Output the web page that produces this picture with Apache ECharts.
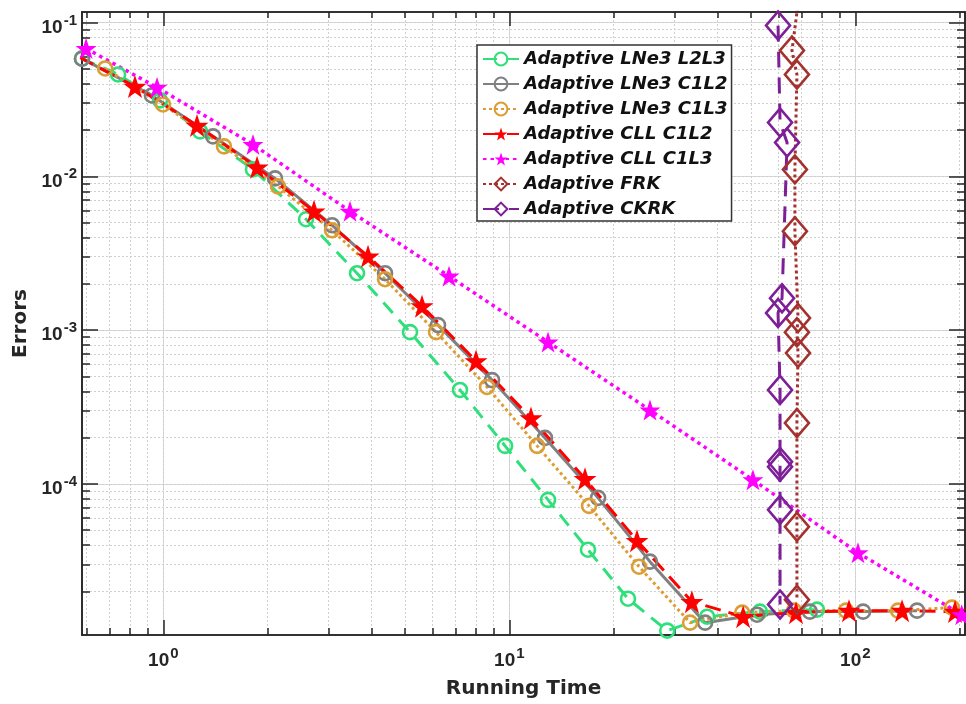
<!DOCTYPE html>
<html><head><meta charset="utf-8">
<script src="https://cdn.jsdelivr.net/npm/echarts@6/dist/echarts.min.js"></script>
<style>html,body{margin:0;padding:0;background:#fff}#c{width:966px;height:704px}</style>
</head><body><div id="c"></div><script>
// ---- data ----
const seriesNames = ['Adaptive LNe3 L2L3','Adaptive LNe3 C1L2','Adaptive LNe3 C1L3','Adaptive CLL C1L2','Adaptive CLL C1L3','Adaptive FRK','Adaptive CKRK'];
const lne3L2L3 = [[0.582,0.0583],[0.740,0.0460],[0.978,0.0312],[1.277,0.0196],[1.816,0.0111],[2.585,0.00526],[3.629,0.002345],[5.164,0.000970],[7.202,0.000408],[9.72,0.0001766],[12.94,7.87e-5],[16.88,3.73e-5],[22.03,1.79e-5],[28.6,1.11e-5],[37.3,1.368e-5],[53.0,1.476e-5],[77.5,1.52e-5]];
const lne3C1L2 = [[0.582,0.0583],[0.927,0.0336],[1.392,0.0182],[2.103,0.00970],[3.073,0.00481],[4.373,0.002345],[6.222,0.001078],[8.913,0.000473],[12.68,0.000199],[18.05,8.11e-5],[25.5,3.12e-5],[36.8,1.251e-5],[52.0,1.41e-5],[73.9,1.476e-5],[105.3,1.476e-5],[150.8,1.498e-5]];
const lne3C1L3 = [[0.679,0.0503],[0.998,0.02934],[1.497,0.01567],[2.145,0.00861],[3.073,0.00446],[4.373,0.002143],[6.141,0.000970],[8.620,0.000427],[12.03,0.0001766],[17.00,7.19e-5],[23.71,2.89e-5],[33.3,1.251e-5],[47.1,1.453e-5],[66.5,1.498e-5],[94.0,1.498e-5],[132.9,1.498e-5],[190.3,1.567e-5]];
const cllC1L2 = [[0.57,0.0598],[0.828,0.0384],[1.251,0.02143],[1.866,0.01144],[2.726,0.00593],[3.905,0.003023],[5.593,0.001432],[8.013,0.000629],[11.55,0.000268],[16.55,0.0001078],[23.39,4.27e-5],[33.7,1.714e-5],[47.4,1.368e-5],[67.4,1.453e-5],[95.9,1.498e-5],[136.5,1.498e-5],[194.2,1.476e-5]];
const cllC1L3 = [[0.598,0.0678],[0.959,0.0379],[1.816,0.01613],[3.464,0.00593],[6.695,0.002244],[12.94,0.000836],[25.5,0.000302],[50.6,0.0001062],[101.8,3.56e-5],[203,1.41e-5]];
const frk = [[68.8,0.15],[65.6,0.0658],[67.8,0.0460],[66.9,0.0111],[66.9,0.00439],[68.3,0.001197],[67.8,0.000970],[68.3,0.000709],[67.8,0.000249],[67.8,5.26e-5],[67.8,1.766e-5]];
const ckrk = [[59.8,0.0956],[60.6,0.0224],[63.5,0.01663],[61.4,0.001614],[59.8,0.001290],[60.6,0.000408],[60.6,0.000139],[60.6,0.000129],[60.6,6.78e-5],[60.6,1.64e-5]];

const xMajorTicks = [1, 10, 100];
const xMinorTicks = [0.6,0.7,0.8,0.9,1,2,3,4,5,6,7,8,9,10,20,30,40,50,60,70,80,90,100,200];
const yMajorTicks = [1e-4, 1e-3, 1e-2, 1e-1];
const yMinorTicks = [2e-5,3e-5,4e-5,5e-5,6e-5,7e-5,8e-5,9e-5,1e-4,2e-4,3e-4,4e-4,5e-4,6e-4,7e-4,8e-4,9e-4,1e-3,2e-3,3e-3,4e-3,5e-3,6e-3,7e-3,8e-3,9e-3,1e-2,2e-2,3e-2,4e-2,5e-2,6e-2,7e-2,8e-2,9e-2,1e-1];
const xRange = [0.582, 207.5];
const yRange = [1.04e-5, 0.1172];

// ---- styling ----
const AX = '#262626';
const STAR = 'path://M50,2 L61.8,36.2 L97.6,36.2 L68.5,57.6 L79.4,92 L50,71 L20.6,92 L31.5,57.6 L2.4,36.2 L38.2,36.2 Z';
const CLEAR = 'rgba(255,255,255,0)';
const fmtPow = v => '{b|10}{s|' + Math.round(Math.log10(v)) + '}';
const richLab = {
  b: {fontSize: 19, fontWeight: 'bold', fontFamily: 'Liberation Sans', color: AX, verticalAlign: 'bottom', lineHeight: 20},
  s: {fontSize: 15, fontWeight: 'bold', fontFamily: 'Liberation Sans', color: AX, verticalAlign: 'bottom', padding: [5, 0, 9, 1], lineHeight: 15}
};

function xAx(pos, ticks, len, major, labels) {
  return {
    type: 'log', position: pos, min: xRange[0], max: xRange[1], logBase: 10,
    axisLine: {show: true, onZero: false, lineStyle: {color: AX, width: 1.6}},
    axisTick: {show: true, inside: true, length: len, customValues: ticks, lineStyle: {color: AX, width: 1.5}},
    axisLabel: labels ? {show: true, customValues: ticks, formatter: fmtPow, rich: richLab, margin: 15} : {show: false},
    splitLine: major === null ? {show: false} : {show: true, lineStyle: major ? {color: '#d8d8d8', width: 1, type: 'solid'} : {color: '#cfcfcf', width: 1, type: [2, 2]}},
    minorTick: {show: false}, minorSplitLine: {show: false},
    name: labels ? 'Running Time' : '', nameLocation: 'middle', nameGap: 44,
    nameTextStyle: {fontFamily: 'DejaVu Sans', fontWeight: 'bold', fontSize: 20, color: AX}
  };
}
function yAx(pos, ticks, len, major, labels) {
  return {
    type: 'log', position: pos, min: yRange[0], max: yRange[1], logBase: 10,
    axisLine: {show: true, onZero: false, lineStyle: {color: AX, width: 1.6}},
    axisTick: {show: true, inside: true, length: len, customValues: ticks, lineStyle: {color: AX, width: 1.5}},
    axisLabel: labels ? {show: true, customValues: ticks, formatter: fmtPow, rich: richLab, margin: 5, padding: [9, 0, 0, 0]} : {show: false},
    splitLine: major === null ? {show: false} : {show: true, lineStyle: major ? {color: '#d8d8d8', width: 1, type: 'solid'} : {color: '#cfcfcf', width: 1, type: [2, 2]}},
    minorTick: {show: false}, minorSplitLine: {show: false},
    name: labels ? 'Errors' : '', nameLocation: 'middle', nameGap: 33, nameRotate: 90,
    nameTextStyle: {fontFamily: 'DejaVu Sans', fontWeight: 'bold', fontSize: 20, color: AX}
  };
}

function mk(name, data, color, dash, width, symbol, size, filled) {
  return {
    name, type: 'line', data, xAxisIndex: 0, yAxisIndex: 0, clip: true,
    symbol, symbolSize: size, showAllSymbol: true,
    lineStyle: {color, width, type: dash, cap: 'butt'},
    itemStyle: filled ? {color, borderWidth: 0} : {color: CLEAR, borderColor: color, borderWidth: 2.6},
    emphasis: {disabled: true}
  };
}

const chart = echarts.init(document.getElementById('c'), null, {renderer: 'canvas'});
chart.setOption({
  animation: false,
  backgroundColor: '#fff',
  grid: {left: 82, right: 1, top: 12, bottom: 68},
  xAxis: [xAx('bottom', xMajorTicks, 15, true, true), xAx('bottom', xMinorTicks, 7, false, false),
          xAx('top', xMajorTicks, 14, null, false), xAx('top', xMinorTicks, 6, null, false)],
  yAxis: [yAx('left', yMajorTicks, 16, true, true), yAx('left', yMinorTicks, 8, false, false),
          yAx('right', yMajorTicks, 16, null, false), yAx('right', yMinorTicks, 8, null, false)],
  legend: {
    orient: 'vertical', left: 477, top: 45, itemWidth: 36, itemHeight: 16, itemGap: 7,
    padding: [5, 4, 3, 5], borderColor: '#333', borderWidth: 1.5, backgroundColor: '#fff',
    selectedMode: false, data: seriesNames,
    textStyle: {fontFamily: 'DejaVu Sans', fontWeight: 'bold', fontStyle: 'italic', fontSize: 18, color: '#111', lineHeight: 18}
  },
  series: [
    mk(seriesNames[0], lne3L2L3, '#2fe07a', [14, 9], 3, 'circle', 14, false),
    mk(seriesNames[1], lne3C1L2, '#808080', 'solid', 3, 'circle', 14, false),
    mk(seriesNames[2], lne3C1L3, '#dc9e34', [3, 3], 3, 'circle', 14, false),
    mk(seriesNames[3], cllC1L2, '#ff0000', [16, 8], 3, STAR, 23, true),
    mk(seriesNames[4], cllC1L3, '#ff00ff', [3.5, 4], 3.5, STAR, 21, true),
    mk(seriesNames[5], frk, '#a3322e', [3, 3], 3, 'diamond', [24, 28], false),
    mk(seriesNames[6], ckrk, '#7d1f96', [16, 10], 3, 'diamond', [24, 28], false)
  ]
});
</script></body></html>
